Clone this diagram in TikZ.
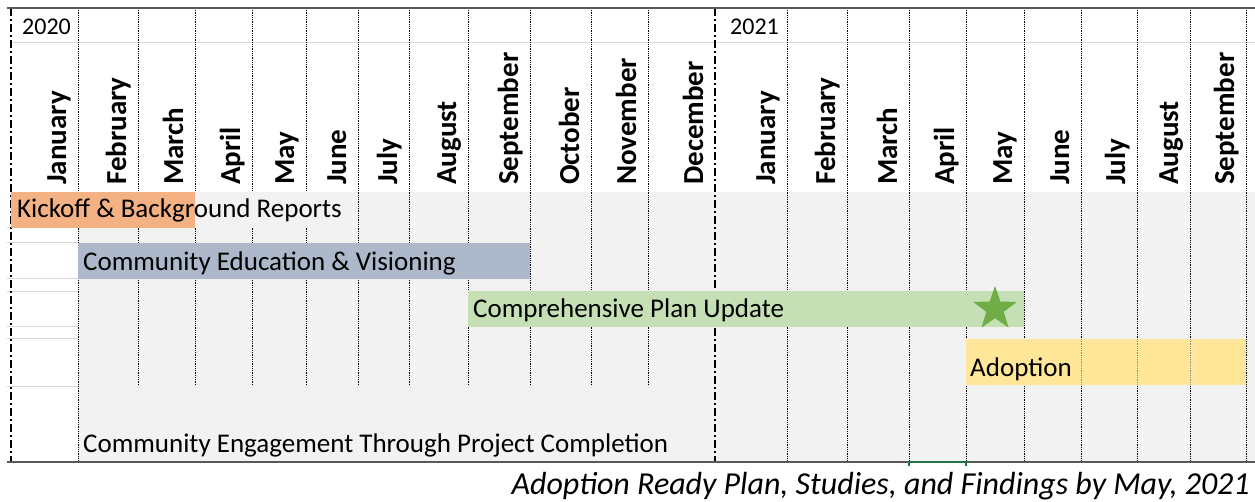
\documentclass[tikz,border=0pt]{standalone}
\usepackage{fontspec}
\setmainfont{Carlito}
\usepackage{xcolor}
\usetikzlibrary{shapes.geometric}
\definecolor{kickoff}{HTML}{F4B183}
\definecolor{education}{HTML}{ADB9CA}
\definecolor{plan}{HTML}{C5E0B4}
\definecolor{adoption}{HTML}{FFE699}
\definecolor{milestone}{HTML}{70AD47}
\definecolor{selection}{HTML}{217346}
\definecolor{cellfill}{HTML}{F2F2F2}
\definecolor{cellline}{HTML}{D9D9D9}
\tikzset{
    month-label/.style = {rotate=90, anchor=base west, inner sep=0pt, font=\fontsize{29}{29}\selectfont\bfseries},
    year-label/.style = {anchor=base west, inner sep=0pt, font=\fontsize{24}{24}\selectfont},
    bar-label/.style = {anchor=base west, inner sep=0pt, font=\fontsize{27}{27}\selectfont},
    month-line/.style = {densely dotted, line width=0.8pt},
    year-line/.style = {line width=1.6pt, dash pattern=on 8pt off 3pt on 2pt off 3pt},
    cell-line/.style = {cellline, line width=1pt},
    frame-line/.style = {black!65, line width=1.3pt},
}

\begin{document}
\begin{tikzpicture}[x=1pt, y=-1pt]
\useasboundingbox (0,0) rectangle (1255,502);
\fill[cellfill] (78,192) rectangle (1255,462);
\fill[cellfill] (195,192) rectangle (1255,228);
\draw[cell-line] (11,43) -- (1255,43);
\foreach \y in {228,243,279,292,327,339,386}
    \draw[cell-line] (7,\y) -- (78,\y);

\draw[month-line] (78,8) -- (78,462);
\foreach \x in {138,195,252,306,358,409,468,530,591,648}
    \draw[month-line] (\x,8) -- (\x,386);
\foreach \x in {787,847,909,966,1024,1081,1137,1190,1246}
    \draw[month-line] (\x,8) -- (\x,462);
\draw[year-line] (11,8) -- (11,462);
\draw[year-line] (715,8) -- (715,462);

\fill[kickoff] (11,192) rectangle (195,228);
\fill[cellfill] (195,192) rectangle (356,228);
\fill[education] (78,243) rectangle (530,279);
\fill[plan] (468,291) rectangle (1024,327);
\fill[adoption] (966,339) rectangle (1246,385);
\foreach \x in {1081,1137,1190}
    \draw[month-line, black!45] (\x,339) -- (\x,385);

\draw[frame-line] (7,8) -- (1255,8);
\draw[frame-line] (7,462) -- (1255,462);
\draw[selection, line width=1.5pt] (909,466) |- (966,462) -- (966,466);

\node[year-label] (year-2020) at (22,35) {2020};
\node[year-label] (year-2021) at (730,35) {2021};
\foreach \m/\x in {January/66, February/126, March/183, April/240, May/294, June/346,
    July/397, August/456, September/518, October/579, November/636, December/703}
    \node[month-label] (m-2020-\m) at (\x,185) {\m};
\foreach \m/\x in {January/775, February/835, March/897, April/954, May/1012,
    June/1069, July/1125, August/1178, September/1234}
    \node[month-label] (m-2021-\m) at (\x,185) {\m};

\node[bar-label] (kickoff-text) at (17,218) {Kickoff \& Background Reports};
\node[bar-label] (education-text) at (83,271) {Community Education \& Visioning};
\node[bar-label] (plan-text) at (473,318) {Comprehensive Plan Update};
\node[bar-label] (adoption-text) at (970,377) {Adoption};
\node[bar-label] (engagement-text) at (83,452) {Community Engagement Through Project Completion};
\node[star, star points=5, star point ratio=2.5, fill=milestone, inner sep=0pt, minimum size=46pt] (plan-star) at (995,309) {};

\node[anchor=base east, inner sep=0pt, font=\fontsize{32}{32}\selectfont\itshape] (caption) at (1250,494)
    {Adoption Ready Plan, Studies, and Findings by May, 2021};
\end{tikzpicture}
\end{document}
